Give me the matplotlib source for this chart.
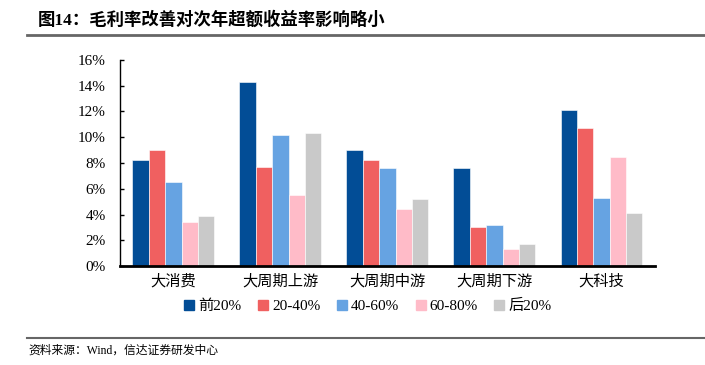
import numpy as np
import matplotlib.pyplot as plt
from matplotlib.lines import Line2D
from matplotlib.ticker import FuncFormatter

plt.rcParams['font.family'] = ['Liberation Serif', 'Noto Sans CJK SC']

categories = ['大消费', '大周期上游', '大周期中游', '大周期下游', '大科技']
series_names = ['前20%', '20-40%', '40-60%', '60-80%', '后20%']
top20 = [8.2, 14.3, 9.0, 7.6, 12.1]
q20_40 = [9.0, 7.7, 8.2, 3.0, 10.7]
q40_60 = [6.5, 10.2, 7.6, 3.2, 5.3]
q60_80 = [3.4, 5.5, 4.4, 1.3, 8.5]
bottom20 = [3.9, 10.3, 5.2, 1.7, 4.1]
series_vals = [top20, q20_40, q40_60, q60_80, bottom20]

colors = ['#024D96', '#F06060', '#66A3E2', '#FFBBC8', '#C9C9C9']

fig = plt.figure(figsize=(7.05, 3.65), dpi=100)
ax = fig.add_axes([0.170, 0.271, 0.759, 0.565])

x = np.arange(len(categories))
w = 0.153
for i, (name, vals) in enumerate(zip(series_names, series_vals)):
    ax.bar(x + (i - 2) * w, vals, width=w, color=colors[i],
           edgecolor='white', linewidth=0.4, label=name, zorder=2)

ax.set_xlim(-0.5, len(categories) - 0.5)
ax.set_ylim(0, 16)
ax.set_yticks(np.arange(0, 17, 2))
ax.yaxis.set_major_formatter(FuncFormatter(lambda v, p: f'{v:.0f}%'))
ax.set_xticks(x)
ax.set_xticklabels(categories, fontsize=11)
ax.tick_params(axis='y', direction='in', length=3, width=1, labelsize=11, pad=10)
ax.tick_params(axis='x', length=0, pad=6)

for s in ['top', 'right']:
    ax.spines[s].set_visible(False)
ax.spines['left'].set_linewidth(1.0)
ax.spines['bottom'].set_linewidth(2.0)

handles = [Line2D([0], [0], marker='s', linestyle='none', markersize=7,
                  markerfacecolor=c, markeredgecolor=c) for c in colors]
fig.legend(handles, series_names, loc='center', bbox_to_anchor=(0.52, 0.162),
           ncol=5, frameon=False, fontsize=11, handletextpad=0.1,
           columnspacing=0.9, handlelength=1.0)

fig.text(0.053, 0.945, '图14：毛利率改善对次年超额收益率影响略小',
         fontsize=12.5, fontweight='bold', va='center', ha='left')
fig.add_artist(Line2D([0.038, 1.0], [0.904, 0.904], color='#666666', linewidth=2))
fig.add_artist(Line2D([0.038, 1.0], [0.074, 0.074], color='#666666', linewidth=1.5))
fig.text(0.040, 0.040, '资料来源：Wind，信达证券研发中心', fontsize=8.5,
         va='center', ha='left')

fig.savefig('out.png', dpi=100)
